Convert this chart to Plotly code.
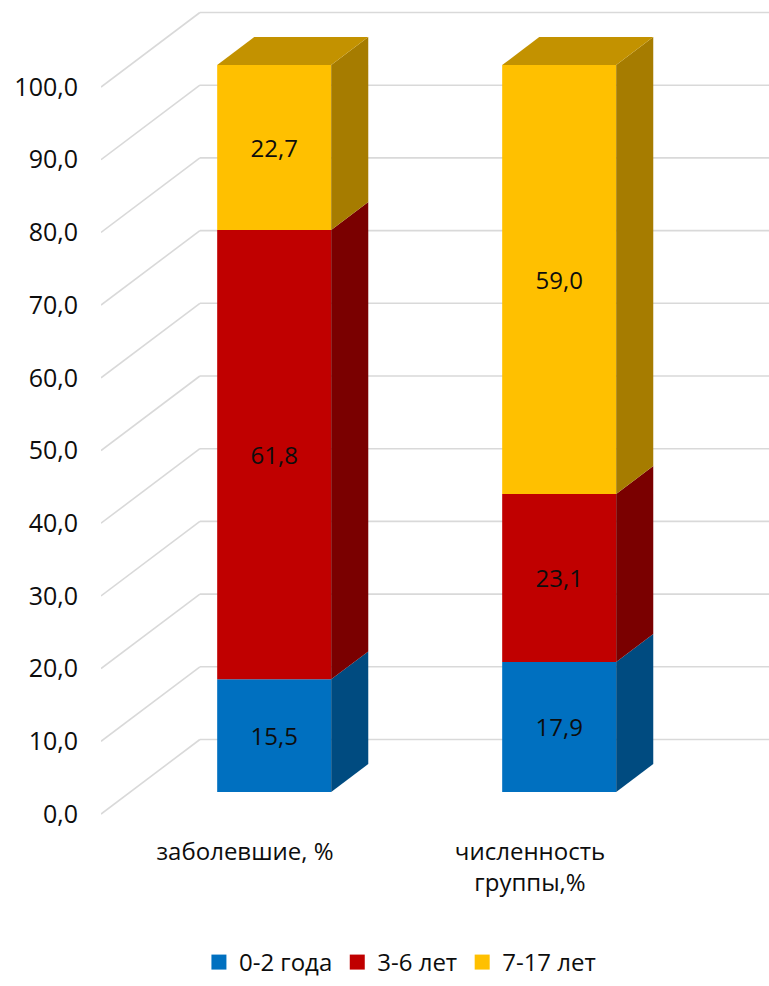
import plotly.graph_objects as go

# ---- data -------------------------------------------------------------
categories = ["заболевшие, %", "численность<br>группы,%"]
age_groups = ["0-2 года", "3-6 лет", "7-17 лет"]
share_0_2 = [15.5, 17.9]
share_3_6 = [61.8, 23.1]
share_7_17 = [22.7, 59.0]
y_ticks = [0, 10, 20, 30, 40, 50, 60, 70, 80, 90, 100]

series = [share_0_2, share_3_6, share_7_17]

# ---- styling ----------------------------------------------------------
front_colors = ["#0070C0", "#C00000", "#FFC000"]
side_colors = ["#004B80", "#7A0000", "#A67C00"]
top_colors = ["#00589A", "#960000", "#C39200"]
grid_color = "#D9D9D9"
text_color = "#0D0D0D"
FONT = "Open Sans"

# ---- oblique projection (axis units) ----------------------------------
DEPTH_DX = 0.347     # x shift of the full chart depth, in category units
DEPTH_DY = 10.25     # y shift of the full chart depth, in value units
WALL_X = -0.5053     # front edge of the left side wall
BAR_FRONT = 0.295    # depth fraction where the bar front faces sit
BAR_BACK = 0.67      # depth fraction of the bar back faces
BAR_W = 0.4
X_RANGE = [-0.5053, 1.8386]
Y_RANGE = [-22.28, 111.97]

fx, fy = BAR_FRONT * DEPTH_DX, BAR_FRONT * DEPTH_DY
bx, by = (BAR_BACK - BAR_FRONT) * DEPTH_DX, (BAR_BACK - BAR_FRONT) * DEPTH_DY

fig = go.Figure()

# walls: gridlines on the back wall and diagonals on the left side wall
back_x, back_y, side_x, side_y = [], [], [], []
for v in y_ticks:
    back_x += [WALL_X + DEPTH_DX, X_RANGE[1] + 0.05, None]
    back_y += [v + DEPTH_DY, v + DEPTH_DY, None]
    side_x += [WALL_X, WALL_X + DEPTH_DX, None]
    side_y += [v, v + DEPTH_DY, None]
for xs, ys in ((back_x, back_y), (side_x, side_y)):
    fig.add_trace(go.Scatter(x=xs, y=ys, mode="lines",
                             line=dict(color=grid_color, width=1.6),
                             hoverinfo="skip", showlegend=False, zorder=0))

# front faces of the stacked bars
n = len(categories)
bases = [[0.0] * n]
for s in series[:-1]:
    bases.append([b + v for b, v in zip(bases[-1], s)])

for k, (name, vals) in enumerate(zip(age_groups, series)):
    fig.add_trace(go.Bar(
        name=name,
        x=[i + fx for i in range(n)],
        y=vals,
        base=[b + fy for b in bases[k]],
        width=BAR_W,
        marker=dict(color=front_colors[k], line=dict(width=0)),
        text=[f"{v:.1f}".replace(".", ",") for v in vals],
        textposition="inside",
        insidetextanchor="middle",
        textangle=0,
        textfont=dict(family=FONT, size=24, color=text_color),
        hoverinfo="skip",
        showlegend=False,
        zorder=1,
    ))
    # legend entry with a larger square swatch
    fig.add_trace(go.Scatter(
        name=name, x=[None], y=[None], mode="markers",
        marker=dict(symbol="square", size=15, color=front_colors[k]),
        showlegend=True, hoverinfo="skip"))

# side and top faces
for i in range(n):
    xl = i + fx - BAR_W / 2
    xr = i + fx + BAR_W / 2
    for k, vals in enumerate(series):
        b = bases[k][i] + fy
        t = b + vals[i]
        fig.add_trace(go.Scatter(
            x=[xr, xr + bx, xr + bx, xr, xr],
            y=[b, b + by, t + by, t, b],
            mode="lines", fill="toself", fillcolor=side_colors[k],
            line=dict(width=0, color=side_colors[k]),
            hoverinfo="skip", showlegend=False, zorder=2))
        if k == len(series) - 1:
            fig.add_trace(go.Scatter(
                x=[xl, xr, xr + bx, xl + bx, xl],
                y=[t, t, t + by, t + by, t],
                mode="lines", fill="toself", fillcolor=top_colors[k],
                line=dict(width=0, color=top_colors[k]),
                hoverinfo="skip", showlegend=False, zorder=2))

fig.update_layout(
    width=769, height=986,
    margin=dict(l=101, r=0, t=0, b=10),
    paper_bgcolor="white", plot_bgcolor="white",
    barmode="overlay",
    separators=", ",
    font=dict(family=FONT, size=24, color=text_color),
    showlegend=True,
    legend=dict(orientation="h", x=0.4475, xanchor="center",
                y=-0.0092, yanchor="bottom", bgcolor="rgba(0,0,0,0)",
                font=dict(family=FONT, size=24, color=text_color),
                traceorder="normal", itemsizing="trace"),
    xaxis=dict(range=X_RANGE, showgrid=False, zeroline=False, showline=False,
               tickvals=list(range(n)), ticktext=categories, ticks="",
               anchor="free", position=0.1445,
               tickfont=dict(family=FONT, size=24, color=text_color)),
    yaxis=dict(range=Y_RANGE, showgrid=False, zeroline=False, showline=False,
               tickvals=y_ticks, tickformat=".1f", ticks="",
               ticklabelstandoff=22,
               tickfont=dict(family=FONT, size=25, color=text_color)),
)

fig.write_html("out.html", config={"displayModeBar": False})
